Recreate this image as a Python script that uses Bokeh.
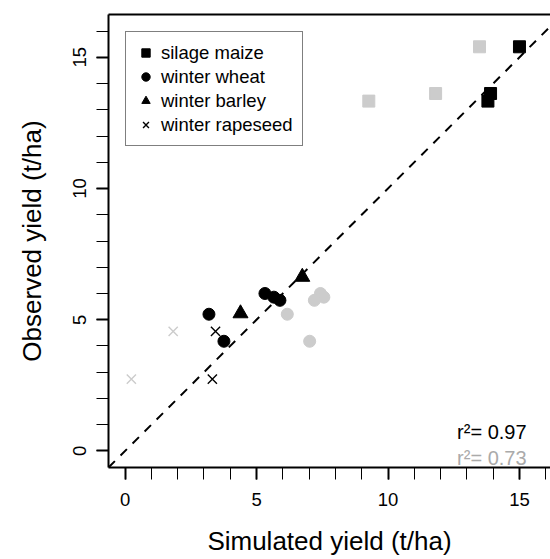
import math
from bokeh.plotting import figure
from bokeh.models import (Range1d, FixedTicker, LinearAxis, Legend, LegendItem,
                          Slope, ColumnDataSource)
from bokeh.core.properties import value
from bokeh.embed import file_html
from bokeh.resources import INLINE

# ---------------- data (t/ha) ----------------
maize_obs = [15.4, 13.62, 13.33]
maize_sim_black = [15.0, 13.9, 13.8]
maize_sim_gray = [13.48, 11.81, 9.27]

wheat_obs = [6.0, 5.86, 5.74, 5.21, 4.18]
wheat_sim_black = [5.32, 5.66, 5.89, 3.19, 3.76]
wheat_sim_gray = [7.43, 7.56, 7.2, 6.17, 7.02]

barley_obs = [5.24, 6.63]
barley_sim_black = [4.39, 6.74]

rape_obs = [4.56, 2.74]
rape_sim_black = [3.44, 3.32]
rape_sim_gray = [1.83, 0.24]

r2_labels = ["r\u00b2= 0.97", "r\u00b2= 0.73"]
r2_x = [15.27, 15.27]
r2_y = [0.72, -0.28]

legend_labels = ["silage maize", "winter wheat", "winter barley", "winter rapeseed"]

x_ticks_major = [0, 5, 10, 15]
ticks_minor = list(range(0, 17))

BLACK = "#000000"
GRAY = "#cccccc"
GRAY_TXT = "#aaaaaa"
FONT = "Liberation Sans"

p = figure(width=550, height=559, output_backend="svg", toolbar_location=None,
           x_range=Range1d(-0.63, 16.18), y_range=Range1d(-0.63, 16.63),
           min_border_left=108, min_border_right=0, min_border_top=14,
           min_border_bottom=92, background_fill_color="white",
           border_fill_color="white")
p.outline_line_color = None
p.grid.visible = False

for ax in (p.xaxis[0], p.yaxis[0]):
    ax.ticker = FixedTicker(ticks=x_ticks_major, minor_ticks=ticks_minor)
    ax.axis_line_width = 2
    ax.axis_line_color = BLACK
    ax.major_tick_out = 12
    ax.major_tick_in = 0
    ax.minor_tick_out = 12
    ax.minor_tick_in = 0
    ax.major_tick_line_width = 2
    ax.minor_tick_line_width = 1
    ax.major_label_text_font = FONT
    ax.major_label_text_font_size = "18.5px"
    ax.major_label_text_color = BLACK
    ax.axis_label_text_font = FONT
    ax.axis_label_text_font_size = "26px"
    ax.axis_label_text_font_style = "normal"
    ax.axis_label_text_color = BLACK

p.xaxis.axis_label = "Simulated yield (t/ha)"
p.yaxis.axis_label = "Observed yield (t/ha)"
p.xaxis.major_label_standoff = 13
p.yaxis.major_label_standoff = 10
p.yaxis.major_label_orientation = "parallel"
p.xaxis.axis_label_standoff = 17
p.yaxis.axis_label_standoff = 24

top = LinearAxis(ticker=FixedTicker(ticks=[]), major_tick_out=0, major_tick_in=0,
                 minor_tick_out=0, minor_tick_in=0, major_label_standoff=0,
                 axis_line_width=2, axis_line_color=BLACK,
                 major_label_text_font_size="0px")
p.add_layout(top, "above")

# 1:1 line
p.add_layout(Slope(gradient=1, y_intercept=0, line_color=BLACK, line_width=2,
                   line_dash="9 8"))

# gray (second model) points
p.scatter(maize_sim_gray, maize_obs, marker="square", size=12, color=GRAY)
p.scatter(wheat_sim_gray, wheat_obs, marker="circle", size=12, color=GRAY)
p.scatter(rape_sim_gray, rape_obs, marker="x", size=13, line_color=GRAY, line_width=1.4)

# black points
r_m = p.scatter(maize_sim_black, maize_obs, marker="square", size=12, color=BLACK)
r_w = p.scatter(wheat_sim_black, wheat_obs, marker="circle", size=12, color=BLACK)
r_b = p.scatter(barley_sim_black, barley_obs, marker="triangle", size=15, color=BLACK)
r_r = p.scatter(rape_sim_black, rape_obs, marker="x", size=13, line_color=BLACK, line_width=1.4)

# r^2 texts
src = ColumnDataSource(dict(x=r2_x, y=r2_y, t=r2_labels, c=[BLACK, GRAY_TXT]))
p.text(x="x", y="y", text="t", source=src, text_color="c", text_align="right",
       text_baseline="alphabetic", text_font=value(FONT), text_font_size="20px")

legend = Legend(items=[LegendItem(label=l, renderers=[r]) for l, r in
                       zip(legend_labels, [r_m, r_w, r_b, r_r])],
                location="top_left", margin=17, padding=9, spacing=1,
                glyph_width=21, glyph_height=21, label_height=23, label_standoff=5,
                label_text_font=FONT, label_text_font_size="18.5px",
                label_text_color=BLACK, border_line_color=BLACK, border_line_width=1,
                background_fill_color="white", background_fill_alpha=1.0)
p.add_layout(legend, "center")

open("out.html", "w").write(file_html(p, INLINE))
